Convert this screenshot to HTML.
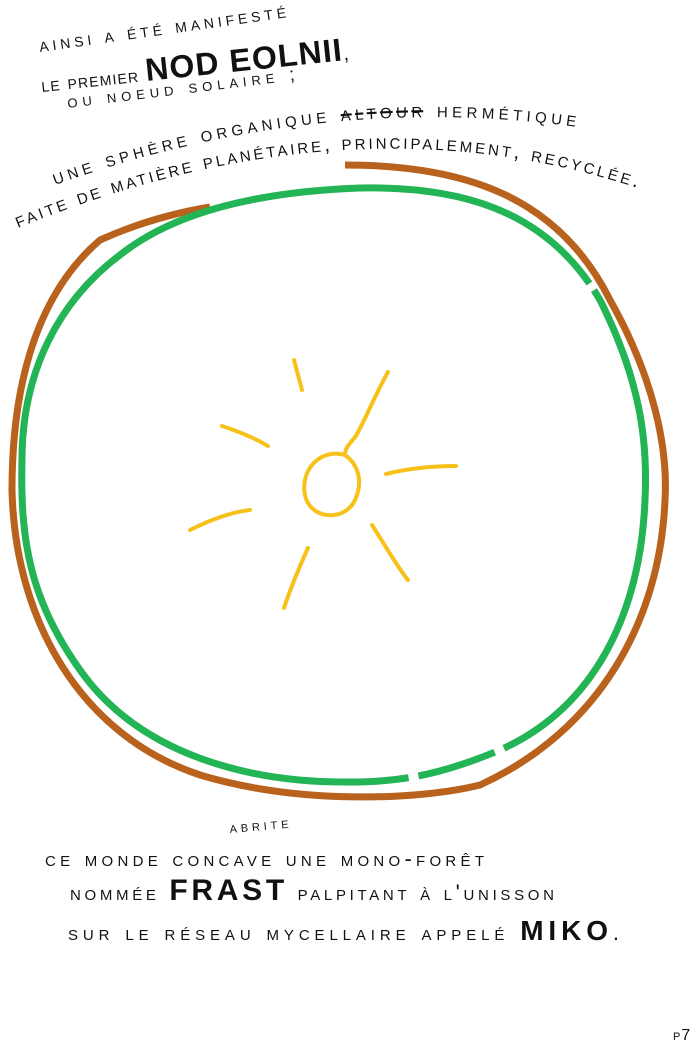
<!DOCTYPE html>
<html><head><meta charset="utf-8"><style>
html,body{margin:0;padding:0;background:#fff;width:700px;height:1049px;overflow:hidden}
svg{display:block}
text{font-family:"Liberation Sans",sans-serif;fill:#111;font-variant:small-caps;letter-spacing:1px}
</style></head><body>
<svg width="700" height="1049" viewBox="0 0 700 1049">
<defs>
<path id="arc1" d="M55,185 Q320,90 585,128"/>
<path id="arc2" d="M18,228 Q360,88 658,195"/>
</defs>
<rect width="700" height="1049" fill="#fff"/>
<g>
<text x="40" y="52" font-size="20" textLength="250" lengthAdjust="spacing" transform="rotate(-8 40 52)">ainsi a été manifesté</text>
<text x="42" y="92" font-size="20" textLength="310" lengthAdjust="spacing" transform="rotate(-6 42 92)">le premier <tspan font-size="32" font-weight="bold">NOD EOLNII</tspan>,</text>
<text x="68" y="108" font-size="19" textLength="230" lengthAdjust="spacing" transform="rotate(-7 68 108)">ou noeud solaire ;</text>
<text font-size="21"><textPath href="#arc1" textLength="530" lengthAdjust="spacing">une sphère organique <tspan text-decoration="line-through">altour</tspan> hermétique</textPath></text>
<text font-size="21"><textPath href="#arc2" textLength="635" lengthAdjust="spacing">faite de matière planétaire, principalement, recyclée.</textPath></text>
</g>
<path d="M345,165 C470,165 560,200 610,300 C655,380 668,450 665,500 C660,620 600,730 480,785 C420,800 300,805 200,775 C80,735 15,620 12,490 C12,400 30,300 100,240 C140,222 180,212 210,207" fill="none" stroke="#b8621e" stroke-width="7"/>
<path d="M360,188 C470,186 550,215 600,300 C640,380 648,440 645,500 C640,620 590,710 500,750 C440,775 400,782 350,782 C250,783 140,755 80,670 C30,600 20,540 22,460 C22,370 60,300 120,255 C170,215 250,192 360,188 Z" fill="none" stroke="#22b455" stroke-width="7" stroke-dasharray="260 8 520 10 80 10 2000"/>
<g stroke="#f6c21a" stroke-width="4" fill="none" stroke-linecap="round">
<path d="M345,455 C320,448 300,470 305,495 C310,520 345,522 355,500 C365,478 355,462 345,455 C345,445 355,440 358,432"/>
<path d="M294,360 L302,390"/>
<path d="M222,426 C240,432 255,438 268,446"/>
<path d="M190,530 C210,520 232,512 250,510"/>
<path d="M308,548 C298,570 290,590 284,608"/>
<path d="M372,525 C385,545 396,565 408,580"/>
<path d="M386,474 C410,468 432,466 456,466"/>
<path d="M388,372 C375,395 365,420 358,432"/>
</g>
<g>
<text x="230" y="833" font-size="15" textLength="60" lengthAdjust="spacing" transform="rotate(-5 230 833)">abrite</text>
<text x="45" y="866" font-size="22" textLength="440" lengthAdjust="spacing">ce monde concave une mono-forêt</text>
<text x="70" y="900" font-size="22" textLength="485" lengthAdjust="spacing">nommée <tspan font-size="30" font-weight="bold">FRAST</tspan> palpitant à l'unisson</text>
<text x="68" y="940" font-size="22" textLength="552" lengthAdjust="spacing">sur le réseau mycellaire appelé <tspan font-size="28" font-weight="bold">MIKO</tspan>.</text>
</g>
<text x="673" y="1040" font-size="16">p7</text>
</svg>
</body></html>
